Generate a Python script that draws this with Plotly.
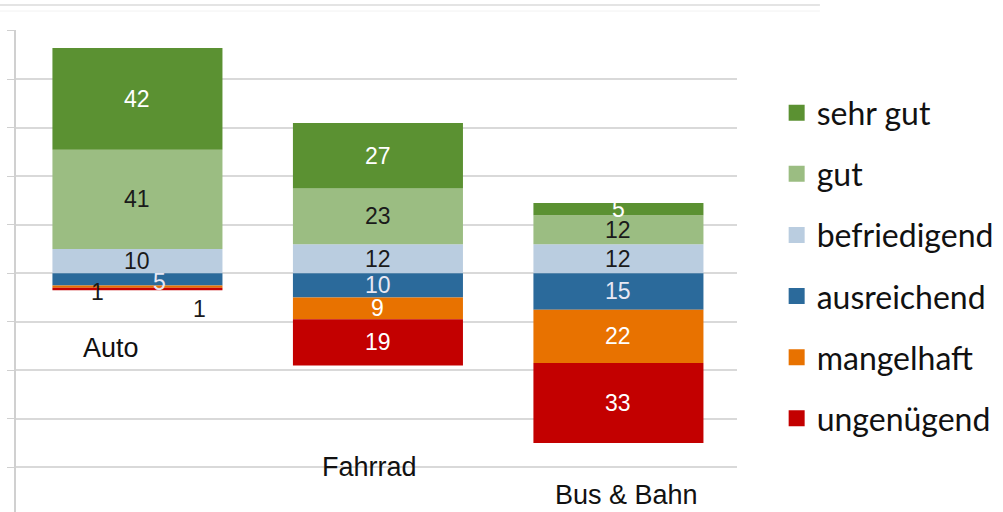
import plotly.graph_objects as go

categories = ["Auto", "Fahrrad", "Bus & Bahn"]
# stacking order: positives from zero upward, negatives from zero downward
befriedigend = [10, 12, 12]
gut = [41, 23, 12]
sehr_gut = [42, 27, 5]
ausreichend = [5, 10, 15]
mangelhaft = [1, 9, 22]
ungenuegend = [1, 19, 33]

series_names = ["befriedigend", "gut", "sehr gut", "ausreichend", "mangelhaft", "ungenügend"]
series_values = [befriedigend, gut, sehr_gut, ausreichend, mangelhaft, ungenuegend]
series_sign = [1, 1, 1, -1, -1, -1]
series_colors = ["#bacde0", "#9bbd82", "#5b9132", "#2b6a9b", "#e87200", "#c30000"]
label_colors = ["#1a1a1a", "#1a1a1a", "#ffffff", "#e8e8f4", "#ffffff", "#ffffff"]
legend_order = ["sehr gut", "gut", "befriedigend", "ausreichend", "mangelhaft", "ungenügend"]

fig = go.Figure()
for name, vals, sgn, col in zip(series_names, series_values, series_sign, series_colors):
    fig.add_trace(go.Bar(
        x=categories, y=[sgn * v for v in vals], name=name,
        marker=dict(color=col, line=dict(width=0)),
        width=0.707, showlegend=False, legendgroup=name,
    ))

# legend entries with larger square symbols
for name in legend_order:
    col = series_colors[series_names.index(name)]
    fig.add_trace(go.Scatter(
        x=[None], y=[None], mode="markers", name=name, legendgroup=name,
        marker=dict(symbol="square", size=16, color=col),
    ))

# value labels centred in each segment
annotations = []
pos_base = [0, 0, 0]
neg_base = [0, 0, 0]
label_shift = {("Auto", "ausreichend"): (22, 3),
               ("Auto", "mangelhaft"): (-40, 5),
               ("Auto", "ungenügend"): (62, 20)}
auto_dark = {"mangelhaft", "ungenügend"}
for name, vals, sgn, tc in zip(series_names, series_values, series_sign, label_colors):
    for i, v in enumerate(vals):
        if sgn > 0:
            mid = pos_base[i] + v / 2
            pos_base[i] += v
        else:
            mid = neg_base[i] - v / 2
            neg_base[i] -= v
        dx, dy = label_shift.get((categories[i], name), (0, 0))
        color = "#1a1a1a" if (categories[i] == "Auto" and name in auto_dark) else tc
        annotations.append(dict(
            x=categories[i], y=mid, text=str(v), showarrow=False,
            xshift=dx, yshift=-dy,
            font=dict(family="Liberation Sans, Arial, sans-serif", size=23, color=color),
        ))

# category labels placed below bars
cat_label_x = [-0.11, 0.965, 2.035]
cat_label_y = [-31, -80, -91.5]
for i, c in enumerate(categories):
    annotations.append(dict(
        x=cat_label_x[i], y=cat_label_y[i], text=c, showarrow=False,
        font=dict(family="Liberation Sans, Arial, sans-serif", size=27, color="#111111"),
    ))

shapes = [
    dict(type="line", xref="paper", yref="paper", x0=-0.03, x1=1.115, y0=1.0519, y1=1.0519,
         line=dict(color="#e4e4e4", width=2)),
    dict(type="line", xref="paper", yref="paper", x0=-0.03, x1=1.115, y0=1.0394, y1=1.0394,
         line=dict(color="#f2f2f2", width=1)),
]

fig.update_layout(
    width=1003, height=512,
    barmode="relative",
    plot_bgcolor="white", paper_bgcolor="white",
    margin=dict(l=16, r=266, t=30, b=0),
    annotations=annotations,
    shapes=shapes,
    showlegend=True,
    legend=dict(
        x=1.055, xanchor="left", y=0.885, yanchor="top",
        font=dict(family="Lato, Open Sans, sans-serif", size=32, color="#111111"),
        tracegroupgap=16.5, itemwidth=30, bgcolor="rgba(0,0,0,0)",
    ),
    xaxis=dict(range=[-0.505, 2.493], showticklabels=False, showgrid=False,
               zeroline=False, showline=False, ticks=""),
    yaxis=dict(range=[-98.5, 100.4], dtick=20, showticklabels=False,
               showgrid=True, gridcolor="#d9d9d9", gridwidth=1.5,
               zeroline=False, showline=True, linecolor="#d0d0d0", linewidth=1.5,
               ticks="outside", ticklen=7, tickcolor="#d0d0d0"),
)

fig.write_html("out.html", config={"displayModeBar": False},
               post_script="document.body.style.margin='0';")
